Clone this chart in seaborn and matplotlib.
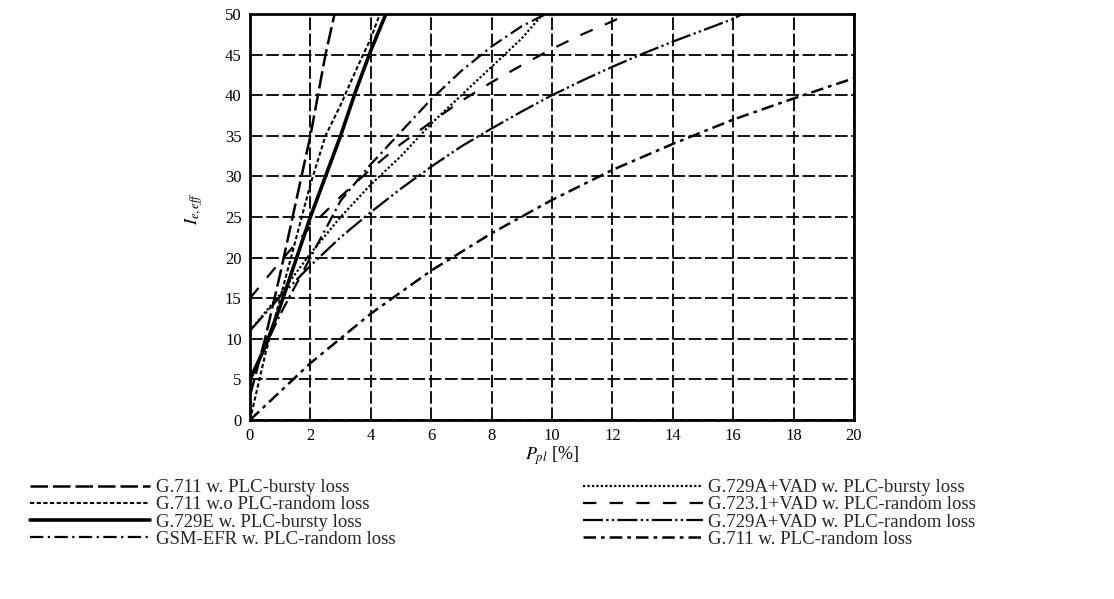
import matplotlib
matplotlib.use("Agg")
import matplotlib.pyplot as plt
import seaborn as sns

# Ie,eff curves (x = packet loss in %)
g711_plc_bursty_x = [0, 0.5, 1, 1.5, 2, 2.5, 2.8]
g711_plc_bursty_y = [3, 10, 18, 26.5, 35, 45, 50]

g711_noplc_random_x = [0, 0.5, 1, 1.5, 2, 2.5, 3, 3.5, 4, 4.3]
g711_noplc_random_y = [0, 8, 15, 22, 29, 35, 38.8, 43, 47, 50]

g729e_bursty_x = [0, 0.5, 1, 1.5, 2, 2.5, 3, 3.5, 4, 4.5]
g729e_bursty_y = [5, 9, 14, 19.5, 25, 30, 35, 40.5, 45.5, 50]

gsm_efr_random_x = [0, 1, 2, 3, 4, 5, 6, 7, 8, 9, 9.8]
gsm_efr_random_y = [5, 13, 20, 27, 31.5, 35.5, 39.5, 43, 46, 48.5, 50]

g729a_vad_bursty_x = [0, 1, 2, 3, 4, 5, 6, 7, 8, 9, 9.7]
g729a_vad_bursty_y = [11, 15.5, 20.5, 25, 29, 32.5, 36.5, 40, 43.5, 47, 50]

g723_vad_random_x = [0, 1, 2, 3, 4, 5, 6, 7, 8, 9, 10, 11, 12, 12.5]
g723_vad_random_y = [15, 19.5, 23.8, 27.5, 30.9, 34, 36.7, 39.3, 41.6, 43.7, 45.7, 47.5, 49.1, 50]

g729a_vad_random_x = [0, 1, 2, 3, 4, 5, 6, 7, 8, 9, 10, 11, 12, 13, 14, 15, 16, 16.3]
g729a_vad_random_y = [11, 15.2, 19, 22.5, 25.6, 28.5, 31.2, 33.7, 35.9, 38, 40, 41.8, 43.5, 45.1, 46.6, 48, 49.4, 50]

g711_plc_random_x = [0, 2, 4, 6, 8, 10, 12, 14, 16, 18, 20]
g711_plc_random_y = [0, 7, 13.1, 18.4, 23, 27.1, 30.8, 34, 37, 39.6, 42.1]

x_ticks = [0, 2, 4, 6, 8, 10, 12, 14, 16, 18, 20]
y_ticks = [0, 5, 10, 15, 20, 25, 30, 35, 40, 45, 50]

# label, x, y, dash pattern, line width
curves = [
    ("G.711 w. PLC-bursty loss", g711_plc_bursty_x, g711_plc_bursty_y, (0, (7, 2)), 1.8),
    ("G.711 w.o PLC-random loss", g711_noplc_random_x, g711_noplc_random_y, (0, (2, 1.2)), 1.5),
    ("G.729E w. PLC-bursty loss", g729e_bursty_x, g729e_bursty_y, "-", 2.6),
    ("GSM-EFR w. PLC-random loss", gsm_efr_random_x, gsm_efr_random_y, (0, (6, 2, 1, 2)), 1.6),
    ("G.729A+VAD w. PLC-bursty loss", g729a_vad_bursty_x, g729a_vad_bursty_y, (0, (1, 1)), 1.6),
    ("G.723.1+VAD w. PLC-random loss", g723_vad_random_x, g723_vad_random_y, (0, (6, 6)), 1.6),
    ("G.729A+VAD w. PLC-random loss", g729a_vad_random_x, g729a_vad_random_y, (0, (9, 1.5, 1, 1.5, 1, 1.5)), 1.6),
    ("G.711 w. PLC-random loss", g711_plc_random_x, g711_plc_random_y, (0, (5, 2, 1.5, 2)), 1.8),
]

sns.set_theme(style="white")
plt.rcParams["font.family"] = ["Liberation Serif", "DejaVu Serif"]
plt.rcParams["mathtext.fontset"] = "stix"

fig = plt.figure(figsize=(11.14, 5.99), dpi=100)
ax = fig.add_axes([0.2244, 0.2988, 0.5422, 0.6778])

for name, xs, ys, ls, lw in curves:
    sns.lineplot(x=xs, y=ys, ax=ax, color="black", linestyle=ls, linewidth=lw, label=name)

handles, labels = ax.get_legend_handles_labels()
ax.get_legend().remove()

ax.set_xlim(0, 20)
ax.set_ylim(0, 50)
ax.set_xticks(x_ticks)
ax.set_yticks(y_ticks)
ax.grid(True, color="black", linestyle=(0, (7, 2)), linewidth=1.3)
ax.tick_params(length=0, pad=6, labelsize=12, colors="black")
for sp in ax.spines.values():
    sp.set_color("black")
    sp.set_linewidth(2)

ax.set_xlabel("$P_{pl}$ [%]", fontsize=13, color="black", labelpad=0)
ax.set_ylabel("$I_{e,eff}$", fontsize=13, color="black")
ax.yaxis.set_label_coords(-0.075, 0.52)

# two legend columns below the plot
leg_kw = dict(loc="upper left", frameon=False, fontsize=13.5, handlelength=6.4,
              handletextpad=0.3, labelspacing=0.0, borderaxespad=0, borderpad=0)
fig.legend(handles[:4], labels[:4], bbox_to_anchor=(0.027, 0.2), **leg_kw)
fig.legend(handles[4:], labels[4:], bbox_to_anchor=(0.523, 0.2), **leg_kw)

plt.savefig("out.png", dpi=100)
